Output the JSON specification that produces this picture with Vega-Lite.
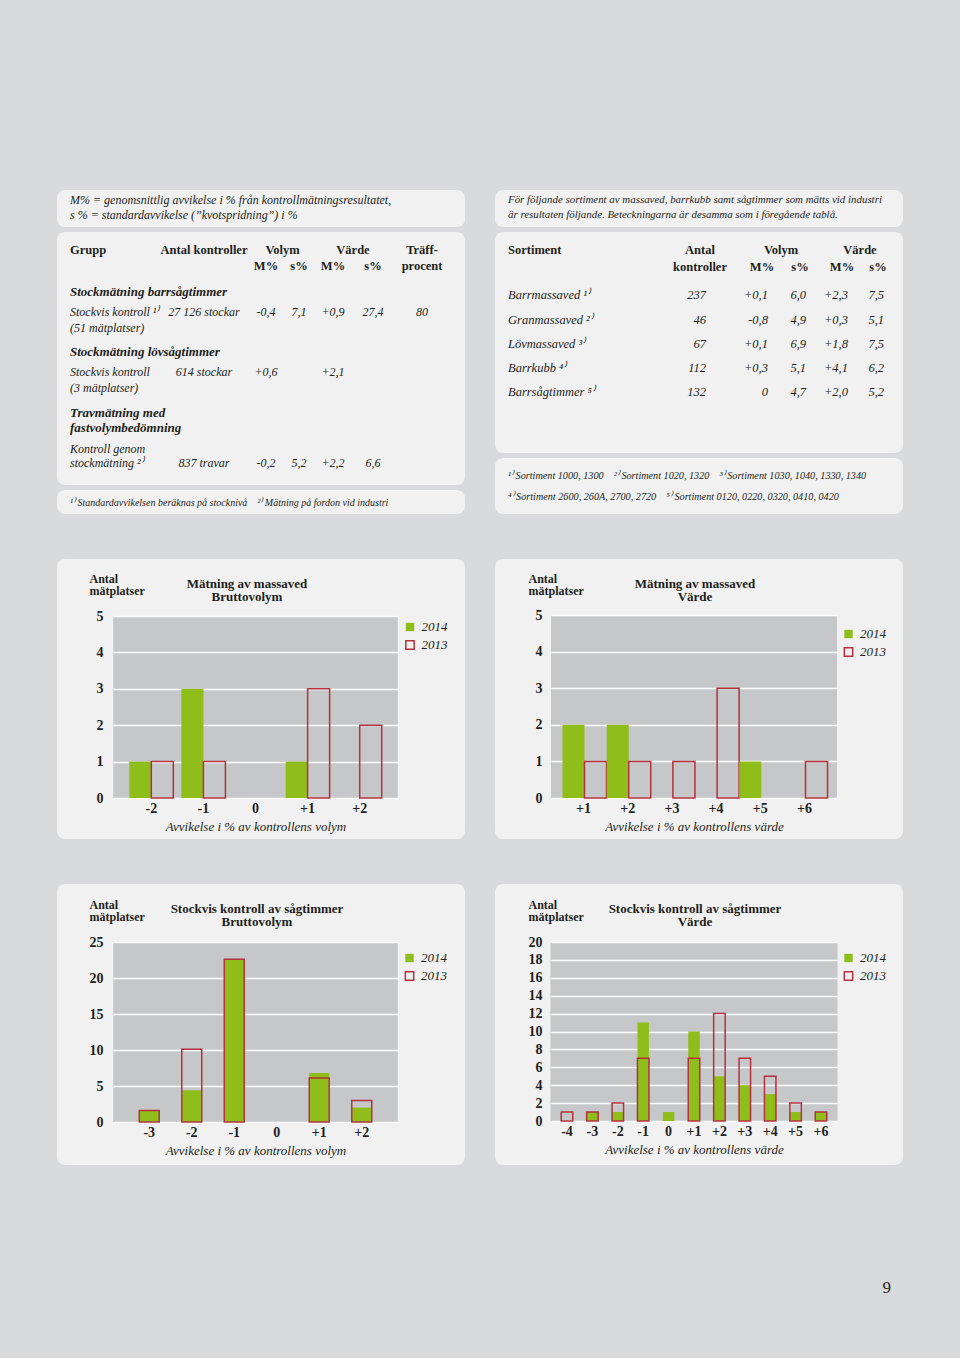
{
"$schema": "https://vega.github.io/schema/vega-lite/v6.json",
"background": "#d9dadb",
"padding": {"left": 57, "top": 190, "right": 57, "bottom": 95},
"title": {"text": "9", "orient": "bottom", "anchor": "end", "offset": 115, "dx": -12, "baseline": "top", "fontSize": 17, "fontWeight": "normal", "font": "Liberation Serif", "color": "#231f20"},
"spacing": 45,
"resolve": {"scale": {"fill": "independent", "stroke": "independent"}, "legend": {"fill": "independent", "stroke": "independent"}},
"datasets": {
"c1": [{"dev":"-2","year":"2014","n":1},{"dev":"-2","year":"2013","n":1},{"dev":"-1","year":"2014","n":3},{"dev":"-1","year":"2013","n":1},{"dev":"+1","year":"2014","n":1},{"dev":"+1","year":"2013","n":3},{"dev":"+2","year":"2013","n":2}],
"c2": [{"dev":"+1","year":"2014","n":2},{"dev":"+1","year":"2013","n":1},{"dev":"+2","year":"2014","n":2},{"dev":"+2","year":"2013","n":1},{"dev":"+3","year":"2013","n":1},{"dev":"+4","year":"2013","n":3},{"dev":"+5","year":"2014","n":1},{"dev":"+6","year":"2013","n":1}],
"c3": [{"dev":"-3","year":"2014","n":1.6},{"dev":"-2","year":"2014","n":4.4},{"dev":"-1","year":"2014","n":22.6},{"dev":"+1","year":"2014","n":6.8},{"dev":"+2","year":"2014","n":2},{"dev":"-3","year":"2013","n":1.6},{"dev":"-2","year":"2013","n":10.1},{"dev":"-1","year":"2013","n":22.6},{"dev":"+1","year":"2013","n":6.1},{"dev":"+2","year":"2013","n":3}],
"c4": [{"dev":"-3","year":"2014","n":1},{"dev":"-2","year":"2014","n":1},{"dev":"-1","year":"2014","n":11},{"dev":"0","year":"2014","n":1},{"dev":"+1","year":"2014","n":10},{"dev":"+2","year":"2014","n":5},{"dev":"+3","year":"2014","n":4},{"dev":"+4","year":"2014","n":3},{"dev":"+5","year":"2014","n":1},{"dev":"+6","year":"2014","n":1},{"dev":"-4","year":"2013","n":1},{"dev":"-3","year":"2013","n":1},{"dev":"-2","year":"2013","n":2},{"dev":"-1","year":"2013","n":7},{"dev":"+1","year":"2013","n":7},{"dev":"+2","year":"2013","n":12},{"dev":"+3","year":"2013","n":7},{"dev":"+4","year":"2013","n":5},{"dev":"+5","year":"2013","n":2},{"dev":"+6","year":"2013","n":1}],
"noteL": [{"line":0,"text":"M% = genomsnittlig avvikelse i % från kontrollmätningsresultatet,"},{"line":1,"text":"s % = standardavvikelse (”kvotspridning”) i %"}],
"noteR": [{"line":0,"text":"För följande sortiment av massaved, barrkubb samt sågtimmer som mätts vid industri"},{"line":1,"text":"är resultaten följande. Beteckningarna är desamma som i föregående tablå."}],
"footL": [{"line":0,"text":"¹⁾ Standardavvikelsen beräknas på stocknivå\u00a0\u00a0\u00a0\u00a0²⁾ Mätning på fordon vid industri"}],
"footR": [{"line":0,"text":"¹⁾ Sortiment 1000, 1300\u00a0\u00a0\u00a0\u00a0²⁾ Sortiment 1020, 1320\u00a0\u00a0\u00a0\u00a0³⁾ Sortiment 1030, 1040, 1330, 1340"},{"line":1,"text":"⁴⁾ Sortiment 2600, 260A, 2700, 2720\u00a0\u00a0\u00a0\u00a0⁵⁾ Sortiment 0120, 0220, 0320, 0410, 0420"}],
"tL_head": [{"line":0,"col":0,"text":"Grupp"},{"line":0,"col":1,"text":"Antal kontroller"},{"line":0,"col":2.5,"text":"Volym"},{"line":0,"col":4.5,"text":"Värde"},{"line":0,"col":6,"text":"Träff-"},{"line":1,"col":2,"text":"M%"},{"line":1,"col":3,"text":"s%"},{"line":1,"col":4,"text":"M%"},{"line":1,"col":5,"text":"s%"},{"line":1,"col":6,"text":"procent"}],
"tL_grp": [{"line":2,"col":0,"text":"Stockmätning barrsågtimmer"},{"line":5,"col":0,"text":"Stockmätning lövsågtimmer"},{"line":8,"col":0,"text":"Travmätning med"},{"line":9,"col":0,"text":"fastvolymbedömning"}],
"tL_body": [{"line":3,"col":0,"text":"Stockvis kontroll ¹⁾"},{"line":3,"col":1,"text":"27 126 stockar"},{"line":3,"col":2,"text":"-0,4"},{"line":3,"col":3,"text":"7,1"},{"line":3,"col":4,"text":"+0,9"},{"line":3,"col":5,"text":"27,4"},{"line":3,"col":6,"text":"80"},{"line":4,"col":0,"text":"(51 mätplatser)"},{"line":6,"col":0,"text":"Stockvis kontroll"},{"line":6,"col":1,"text":"614 stockar"},{"line":6,"col":2,"text":"+0,6"},{"line":6,"col":4,"text":"+2,1"},{"line":7,"col":0,"text":"(3 mätplatser)"},{"line":10,"col":0,"text":"Kontroll genom"},{"line":11,"col":0,"text":"stockmätning ²⁾"},{"line":11,"col":1,"text":"837 travar"},{"line":11,"col":2,"text":"-0,2"},{"line":11,"col":3,"text":"5,2"},{"line":11,"col":4,"text":"+2,2"},{"line":11,"col":5,"text":"6,6"}],
"tR_head": [{"line":0,"col":0,"text":"Sortiment"},{"line":0,"col":1,"text":"Antal"},{"line":1,"col":1,"text":"kontroller"},{"line":0,"col":2.5,"text":"Volym"},{"line":0,"col":4.5,"text":"Värde"},{"line":1,"col":2,"text":"M%"},{"line":1,"col":3,"text":"s%"},{"line":1,"col":4,"text":"M%"},{"line":1,"col":5,"text":"s%"}],
"tR_body": [{"line":2,"col":0,"text":"Barrmassaved ¹⁾"},{"line":2,"col":1,"text":"237"},{"line":2,"col":2,"text":"+0,1"},{"line":2,"col":3,"text":"6,0"},{"line":2,"col":4,"text":"+2,3"},{"line":2,"col":5,"text":"7,5"},{"line":3,"col":0,"text":"Granmassaved ²⁾"},{"line":3,"col":1,"text":"46"},{"line":3,"col":2,"text":"-0,8"},{"line":3,"col":3,"text":"4,9"},{"line":3,"col":4,"text":"+0,3"},{"line":3,"col":5,"text":"5,1"},{"line":4,"col":0,"text":"Lövmassaved ³⁾"},{"line":4,"col":1,"text":"67"},{"line":4,"col":2,"text":"+0,1"},{"line":4,"col":3,"text":"6,9"},{"line":4,"col":4,"text":"+1,8"},{"line":4,"col":5,"text":"7,5"},{"line":5,"col":0,"text":"Barrkubb ⁴⁾"},{"line":5,"col":1,"text":"112"},{"line":5,"col":2,"text":"+0,3"},{"line":5,"col":3,"text":"5,1"},{"line":5,"col":4,"text":"+4,1"},{"line":5,"col":5,"text":"6,2"},{"line":6,"col":0,"text":"Barrsågtimmer ⁵⁾"},{"line":6,"col":1,"text":"132"},{"line":6,"col":2,"text":"0"},{"line":6,"col":3,"text":"4,7"},{"line":6,"col":4,"text":"+2,0"},{"line":6,"col":5,"text":"5,2"}]
},
"vconcat": [
{"hconcat": [
 {"spacing": 5, "vconcat": [
  {"width": 408, "height": 37, "data": {"name": "noteL"}, "mark": {"type": "text", "align": "left", "fontStyle": "italic", "fontSize": 12},
   "encoding": {"x": {"datum": 0, "type": "quantitative", "scale": {"domain": [0,1], "range": [13,395], "nice": false, "zero": false}, "axis": null},
    "y": {"field": "line", "type": "quantitative", "scale": {"domain": [0,1], "range": [10,24.5], "nice": false, "zero": false}, "axis": null},
    "text": {"field": "text"}}},
  {"width": 408, "height": 253,
   "encoding": {"x": {"field": "col", "type": "quantitative", "scale": {"domain": [0,1,2,3,4,5,6,7], "range": [13,147,209,242,276,316,365,393], "nice": false, "zero": false}, "axis": null},
    "y": {"field": "line", "type": "quantitative", "scale": {"domain": [0,1,2,3,4,5,6,7,8,9,10,11], "range": [18,33.7,60.3,79.7,95.7,120.3,140.3,155.7,181.3,196.3,217,231.3], "nice": false, "zero": false}, "axis": null},
    "text": {"field": "text"}},
   "layer": [
    {"data": {"name": "tL_head"}, "transform": [{"filter": "datum.col == 0"}], "mark": {"type": "text", "align": "left", "fontWeight": "bold", "fontSize": 12.5}},
    {"data": {"name": "tL_head"}, "transform": [{"filter": "datum.col > 0"}], "mark": {"type": "text", "align": "center", "fontWeight": "bold", "fontSize": 12.5}},
    {"data": {"values": [{}]}, "mark": {"type": "rule", "color": "#2a2a2a", "strokeWidth": 1.2}, "encoding": {"x": {"datum": 0, "type": "quantitative"}, "x2": {"datum": 7}, "y": {"datum": 1.6, "type": "quantitative"}}},
    {"data": {"name": "tL_grp"}, "mark": {"type": "text", "align": "left", "fontWeight": "bold", "fontStyle": "italic", "fontSize": 13}},
    {"data": {"name": "tL_body"}, "transform": [{"filter": "datum.col == 0"}], "mark": {"type": "text", "align": "left", "fontStyle": "italic", "fontSize": 12}},
    {"data": {"name": "tL_body"}, "transform": [{"filter": "datum.col > 0"}], "mark": {"type": "text", "align": "center", "fontStyle": "italic", "fontSize": 12}}
   ]},
  {"width": 408, "height": 24, "data": {"name": "footL"}, "mark": {"type": "text", "align": "left", "fontStyle": "italic", "fontSize": 10},
   "encoding": {"x": {"datum": 0, "type": "quantitative", "scale": {"domain": [0,1], "range": [13,395], "nice": false, "zero": false}, "axis": null},
    "y": {"field": "line", "type": "quantitative", "scale": {"domain": [0,1], "range": [12.5,30], "nice": false, "zero": false}, "axis": null},
    "text": {"field": "text"}}}
 ]},
 {"spacing": 5, "vconcat": [
  {"width": 408, "height": 37, "data": {"name": "noteR"}, "mark": {"type": "text", "align": "left", "fontStyle": "italic", "fontSize": 10.9},
   "encoding": {"x": {"datum": 0, "type": "quantitative", "scale": {"domain": [0,1], "range": [13,395], "nice": false, "zero": false}, "axis": null},
    "y": {"field": "line", "type": "quantitative", "scale": {"domain": [0,1], "range": [10,25], "nice": false, "zero": false}, "axis": null},
    "text": {"field": "text"}}},
  {"width": 408, "height": 221,
   "encoding": {"x": {"field": "col", "type": "quantitative", "scale": {"domain": [0,1,2,3,4,5,6], "range": [13,211,273,311,353,389,394], "nice": false, "zero": false}, "axis": null},
    "y": {"field": "line", "type": "quantitative", "scale": {"domain": [0,1,2,3,4,5,6], "range": [18,34.7,63,88,112,136.3,160.3], "nice": false, "zero": false}, "axis": null},
    "text": {"field": "text"}},
   "layer": [
    {"data": {"name": "tR_head"}, "transform": [{"filter": "datum.col == 0"}], "mark": {"type": "text", "align": "left", "fontWeight": "bold", "fontSize": 12.5}},
    {"data": {"name": "tR_head"}, "transform": [{"filter": "datum.col > 0"}], "mark": {"type": "text", "align": "center", "fontWeight": "bold", "fontSize": 12.5, "dx": -6}},
    {"data": {"values": [{}]}, "mark": {"type": "rule", "color": "#2a2a2a", "strokeWidth": 1.2}, "encoding": {"x": {"datum": 0, "type": "quantitative"}, "x2": {"datum": 6}, "y": {"datum": 1.55, "type": "quantitative"}}},
    {"data": {"name": "tR_body"}, "transform": [{"filter": "datum.col == 0"}], "mark": {"type": "text", "align": "left", "fontStyle": "italic", "fontSize": 12.5}},
    {"data": {"name": "tR_body"}, "transform": [{"filter": "datum.col > 0"}], "mark": {"type": "text", "align": "right", "fontStyle": "italic", "fontSize": 12.5}}
   ]},
  {"width": 408, "height": 56, "data": {"name": "footR"}, "mark": {"type": "text", "align": "left", "fontStyle": "italic", "fontSize": 10.2},
   "encoding": {"x": {"datum": 0, "type": "quantitative", "scale": {"domain": [0,1], "range": [13,395], "nice": false, "zero": false}, "axis": null},
    "y": {"field": "line", "type": "quantitative", "scale": {"domain": [0,1], "range": [18,39], "nice": false, "zero": false}, "axis": null},
    "text": {"field": "text"}}}
 ]}
], "spacing": 30},
{"hconcat": [
 {"width": 408, "height": 280, "data": {"name": "c1"},
  "title": {"text": ["Mätning av massaved", "Bruttovolym"], "anchor": "middle", "frame": "group", "offset": -45, "baseline": "top", "dx": -14, "fontSize": 13, "fontWeight": "bold", "lineHeight": 13},
  "mark": {"type": "bar", "strokeWidth": 1.5},
  "encoding": {
   "x": {"field": "dev", "type": "nominal", "scale": {"domain": ["-2","-1","0","+1","+2"], "range": [56,341], "paddingInner": 0.155, "paddingOuter": 0.3125},
    "axis": {"orient": "top", "offset": -239, "labelPadding": -3.5, "labelBaseline": "top", "labelFontSize": 14, "labelFontWeight": "bold", "labelAngle": 0, "grid": true, "gridColor": "#c6c7c9", "gridWidth": 76.6, "bandPosition": 0.5, "title": "Avvikelse i % av kontrollens volym", "titleFontSize": 13, "titleFontStyle": "italic", "titleFontWeight": "normal", "titleBaseline": "top", "titleY": 22}},
   "xOffset": {"field": "year", "type": "nominal", "scale": {"domain": ["2014","2013"]}},
   "y": {"field": "n", "type": "quantitative", "stack": null, "scale": {"domain": [0,5], "range": [239,57], "nice": false, "zero": false},
    "axis": {"values": [0,1,2,3,4,5], "grid": true, "gridColor": "#ffffff", "gridWidth": 1.5, "offset": -56, "labelPadding": 10, "labelFontSize": 14, "labelFontWeight": "bold", "title": ["Antal", "mätplatser"], "titleAngle": 0, "titleAlign": "left", "titleBaseline": "top", "titleX": -24, "titleY": 14, "titleFontSize": 12, "titleFontWeight": "bold", "titleLineHeight": 12.5}},
   "fill": {"field": "year", "type": "nominal", "scale": {"domain": ["2014","2013"], "range": ["#8fbe1b", "rgba(255,255,255,0)"]},
    "legend": {"orient": "none", "legendX": 346.5, "legendY": 61.5, "direction": "vertical", "title": null, "symbolType": "square", "symbolSize": 70, "symbolStrokeWidth": 1.5, "labelFontSize": 13, "labelFontStyle": "italic", "labelOffset": 5, "rowPadding": 3, "padding": 0}},
   "stroke": {"field": "year", "type": "nominal", "scale": {"domain": ["2014","2013"], "range": ["rgba(0,0,0,0)", "#b3323e"]},
    "legend": {"orient": "none", "legendX": 346.5, "legendY": 61.5, "direction": "vertical", "title": null, "symbolType": "square", "symbolSize": 70, "symbolStrokeWidth": 1.5, "labelFontSize": 13, "labelFontStyle": "italic", "labelOffset": 5, "rowPadding": 3, "padding": 0}}
  }},
 {"width": 408, "height": 280, "data": {"name": "c2"},
  "title": {"text": ["Mätning av massaved", "Värde"], "anchor": "middle", "frame": "group", "offset": -45, "baseline": "top", "dx": -4, "fontSize": 13, "fontWeight": "bold", "lineHeight": 13},
  "mark": {"type": "bar", "strokeWidth": 1.5},
  "encoding": {
   "x": {"field": "dev", "type": "nominal", "scale": {"domain": ["+1","+2","+3","+4","+5","+6"], "range": [56,342], "paddingInner": 0.05, "paddingOuter": 0.26},
    "axis": {"orient": "top", "offset": -239, "labelPadding": -3.5, "labelBaseline": "top", "labelFontSize": 14, "labelFontWeight": "bold", "labelAngle": 0, "grid": true, "gridColor": "#c6c7c9", "gridWidth": 65, "bandPosition": 0.5, "title": "Avvikelse i % av kontrollens värde", "titleFontSize": 13, "titleFontStyle": "italic", "titleFontWeight": "normal", "titleBaseline": "top", "titleY": 22}},
   "xOffset": {"field": "year", "type": "nominal", "scale": {"domain": ["2014","2013"]}},
   "y": {"field": "n", "type": "quantitative", "stack": null, "scale": {"domain": [0,5], "range": [239,56], "nice": false, "zero": false},
    "axis": {"values": [0,1,2,3,4,5], "grid": true, "gridColor": "#ffffff", "gridWidth": 1.5, "offset": -56, "labelPadding": 9, "labelFontSize": 14, "labelFontWeight": "bold", "title": ["Antal", "mätplatser"], "titleAngle": 0, "titleAlign": "left", "titleBaseline": "top", "titleX": -23, "titleY": 14, "titleFontSize": 12, "titleFontWeight": "bold", "titleLineHeight": 12.5}},
   "fill": {"field": "year", "type": "nominal", "scale": {"domain": ["2014","2013"], "range": ["#8fbe1b", "rgba(255,255,255,0)"]},
    "legend": {"orient": "none", "legendX": 347, "legendY": 68.5, "direction": "vertical", "title": null, "symbolType": "square", "symbolSize": 70, "symbolStrokeWidth": 1.5, "labelFontSize": 13, "labelFontStyle": "italic", "labelOffset": 5, "rowPadding": 3, "padding": 0}},
   "stroke": {"field": "year", "type": "nominal", "scale": {"domain": ["2014","2013"], "range": ["rgba(0,0,0,0)", "#b3323e"]},
    "legend": {"orient": "none", "legendX": 347, "legendY": 68.5, "direction": "vertical", "title": null, "symbolType": "square", "symbolSize": 70, "symbolStrokeWidth": 1.5, "labelFontSize": 13, "labelFontStyle": "italic", "labelOffset": 5, "rowPadding": 3, "padding": 0}}
  }}
], "spacing": 30, "resolve": {"scale": {"fill": "independent", "stroke": "independent"}, "legend": {"fill": "independent", "stroke": "independent"}}},
{"hconcat": [
 {"width": 408, "height": 281, "data": {"name": "c3"},
  "title": {"text": ["Stockvis kontroll av sågtimmer", "Bruttovolym"], "anchor": "middle", "frame": "group", "offset": -45, "baseline": "top", "dx": -4, "fontSize": 13, "fontWeight": "bold", "lineHeight": 13},
  "mark": {"type": "bar", "strokeWidth": 1.5},
  "encoding": {
   "x": {"field": "dev", "type": "nominal", "scale": {"domain": ["-3","-2","-1","0","+1","+2"], "range": [56,341], "paddingInner": 0.53, "paddingOuter": 0.618},
    "axis": {"orient": "top", "offset": -238, "labelPadding": -3.5, "labelBaseline": "top", "labelFontSize": 14, "labelFontWeight": "bold", "labelAngle": 0, "grid": true, "gridColor": "#c6c7c9", "gridWidth": 72.6, "bandPosition": 0.5, "title": "Avvikelse i % av kontrollens volym", "titleFontSize": 13, "titleFontStyle": "italic", "titleFontWeight": "normal", "titleBaseline": "top", "titleY": 22}},
   "y": {"field": "n", "type": "quantitative", "stack": null, "scale": {"domain": [0,25], "range": [238,58], "nice": false, "zero": false},
    "axis": {"values": [0,5,10,15,20,25], "grid": true, "gridColor": "#ffffff", "gridWidth": 1.5, "offset": -56, "labelPadding": 10, "labelFontSize": 14, "labelFontWeight": "bold", "title": ["Antal", "mätplatser"], "titleAngle": 0, "titleAlign": "left", "titleBaseline": "top", "titleX": -24, "titleY": 15, "titleFontSize": 12, "titleFontWeight": "bold", "titleLineHeight": 12.5}},
   "fill": {"field": "year", "type": "nominal", "scale": {"domain": ["2014","2013"], "range": ["#8fbe1b", "rgba(255,255,255,0)"]},
    "legend": {"orient": "none", "legendX": 346, "legendY": 67.5, "direction": "vertical", "title": null, "symbolType": "square", "symbolSize": 70, "symbolStrokeWidth": 1.5, "labelFontSize": 13, "labelFontStyle": "italic", "labelOffset": 5, "rowPadding": 3, "padding": 0}},
   "stroke": {"field": "year", "type": "nominal", "scale": {"domain": ["2014","2013"], "range": ["rgba(0,0,0,0)", "#b3323e"]},
    "legend": {"orient": "none", "legendX": 346, "legendY": 67.5, "direction": "vertical", "title": null, "symbolType": "square", "symbolSize": 70, "symbolStrokeWidth": 1.5, "labelFontSize": 13, "labelFontStyle": "italic", "labelOffset": 5, "rowPadding": 3, "padding": 0}}
  }},
 {"width": 408, "height": 281, "data": {"name": "c4"},
  "title": {"text": ["Stockvis kontroll av sågtimmer", "Värde"], "anchor": "middle", "frame": "group", "offset": -45, "baseline": "top", "dx": -4, "fontSize": 13, "fontWeight": "bold", "lineHeight": 13},
  "mark": {"type": "bar", "strokeWidth": 1.5},
  "encoding": {
   "x": {"field": "dev", "type": "nominal", "scale": {"domain": ["-4","-3","-2","-1","0","+1","+2","+3","+4","+5","+6"], "range": [56,342], "paddingInner": 0.547, "paddingOuter": 0.403},
    "axis": {"orient": "top", "offset": -237, "labelPadding": -3.5, "labelBaseline": "top", "labelFontSize": 14, "labelFontWeight": "bold", "labelAngle": 0, "grid": true, "gridColor": "#c6c7c9", "gridWidth": 32, "bandPosition": 0.5, "title": "Avvikelse i % av kontrollens värde", "titleFontSize": 13, "titleFontStyle": "italic", "titleFontWeight": "normal", "titleBaseline": "top", "titleY": 22}},
   "y": {"field": "n", "type": "quantitative", "stack": null, "scale": {"domain": [0,20], "range": [237,58], "nice": false, "zero": false},
    "axis": {"values": [0,2,4,6,8,10,12,14,16,18,20], "grid": true, "gridColor": "#ffffff", "gridWidth": 1.5, "offset": -56, "labelPadding": 9, "labelFontSize": 14, "labelFontWeight": "bold", "title": ["Antal", "mätplatser"], "titleAngle": 0, "titleAlign": "left", "titleBaseline": "top", "titleX": -23, "titleY": 15, "titleFontSize": 12, "titleFontWeight": "bold", "titleLineHeight": 12.5}},
   "fill": {"field": "year", "type": "nominal", "scale": {"domain": ["2014","2013"], "range": ["#8fbe1b", "rgba(255,255,255,0)"]},
    "legend": {"orient": "none", "legendX": 347, "legendY": 67.5, "direction": "vertical", "title": null, "symbolType": "square", "symbolSize": 70, "symbolStrokeWidth": 1.5, "labelFontSize": 13, "labelFontStyle": "italic", "labelOffset": 5, "rowPadding": 3, "padding": 0}},
   "stroke": {"field": "year", "type": "nominal", "scale": {"domain": ["2014","2013"], "range": ["rgba(0,0,0,0)", "#b3323e"]},
    "legend": {"orient": "none", "legendX": 347, "legendY": 67.5, "direction": "vertical", "title": null, "symbolType": "square", "symbolSize": 70, "symbolStrokeWidth": 1.5, "labelFontSize": 13, "labelFontStyle": "italic", "labelOffset": 5, "rowPadding": 3, "padding": 0}}
  }}
], "spacing": 30, "resolve": {"scale": {"fill": "independent", "stroke": "independent"}, "legend": {"fill": "independent", "stroke": "independent"}}}
],
"config": {
 "view": {"fill": "#f1f1f1", "stroke": null, "cornerRadius": 8},
 "font": "Liberation Serif",
 "text": {"font": "Liberation Serif", "color": "#231f20", "baseline": "middle"},
 "axis": {"ticks": false, "domain": false, "labelFont": "Liberation Serif", "titleFont": "Liberation Serif", "labelColor": "#231f20", "titleColor": "#231f20"},
 "legend": {"labelFont": "Liberation Serif", "labelColor": "#231f20"},
 "title": {"font": "Liberation Serif", "color": "#231f20"}
}
}
